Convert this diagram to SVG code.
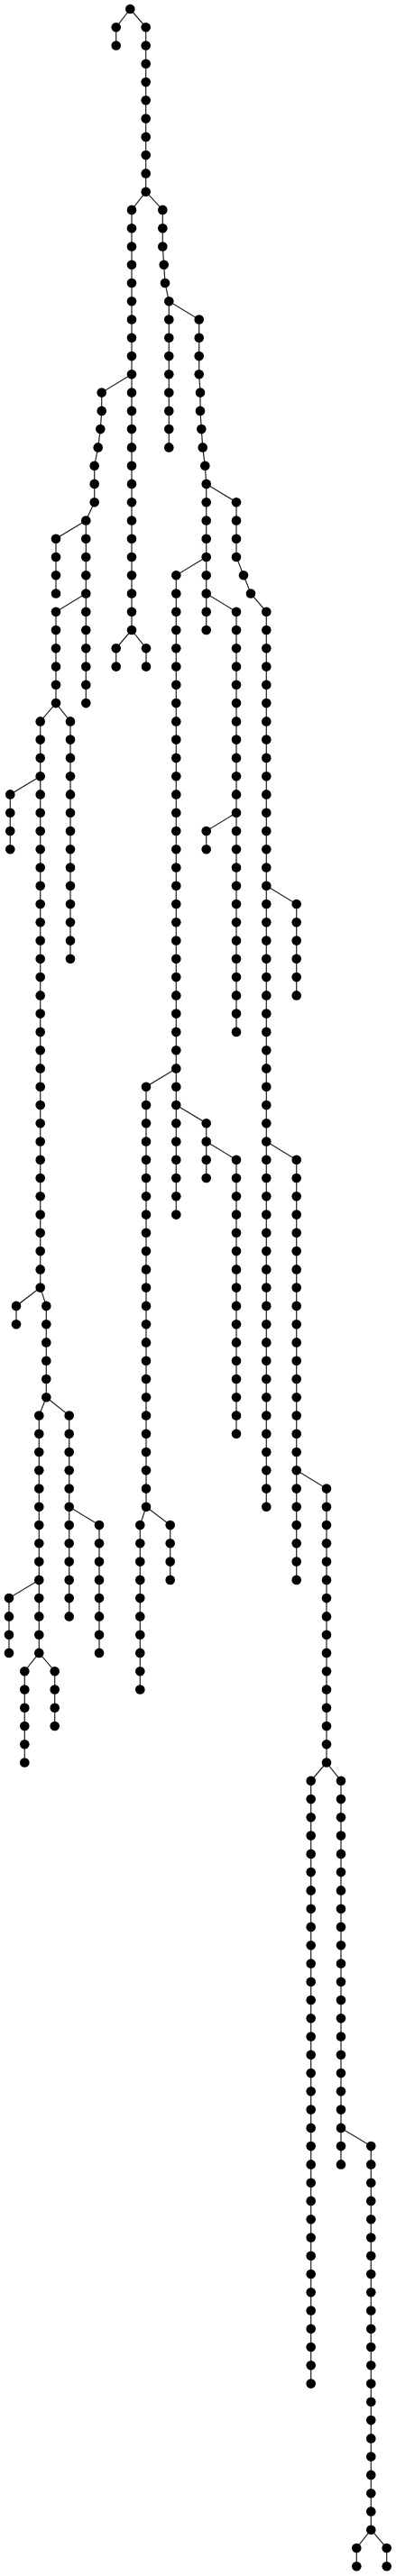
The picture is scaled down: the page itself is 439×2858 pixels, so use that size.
<svg xmlns="http://www.w3.org/2000/svg" width="439" height="2858" viewBox="0 0 439 2858">
<style>
.e path{fill:none;stroke:#222;stroke-width:1.2}
.n circle{fill:#000;r:5.3}
</style>
<rect width="439" height="2858" fill="#fff"/>
<g id="connectors" class="e">
<path d="M144.3 10L128.7 30.3V50.5"/>
<path d="M144.3 10L161.7 30.3V212.7"/>
<path d="M161.7 212.7L146 232.9V699"/>
<path d="M161.7 212.7L180.3 232.9V273.5L181.7 293.7L183 314L187.3 334.3V496.4"/>
<path d="M187.3 334.3L220.7 354.5V415.3L222 435.6V455.9L223.3 476.1L224.7 496.4L227.3 516.7L228.7 536.9V699"/>
<path d="M228.7 536.9L262 557.2V618L270 638.3L278 658.5L295.3 678.8V1671.8"/>
<path d="M228.7 618L195.3 638.3V1347.6"/>
<path d="M228.7 658.5L262 678.8V1144.9"/>
<path d="M262 901.7L228.7 922V942.2"/>
<path d="M295.3 982.8L328.7 1003V1104.4"/>
<path d="M195.3 1185.4L162 1205.7V1671.8"/>
<path d="M195.3 1226L228.7 1246.2V1307"/>
<path d="M228.7 1266.5L262 1286.8V1590.8"/>
<path d="M295.3 1266.5L328.7 1286.8V1752.9"/>
<path d="M328.7 1631.3L362 1651.6V1955.5"/>
<path d="M362 1955.5L344.7 1975.8V2644.6"/>
<path d="M362 1955.5L378 1975.8V2401.4"/>
<path d="M378 2360.9L411.3 2381.1V2806.7"/>
<path d="M411.3 2806.7L395.3 2827V2847.2"/>
<path d="M411.3 2806.7L428.7 2827V2847.2"/>
<path d="M162 1671.8L155.3 1692.1V1874.5"/>
<path d="M162 1671.8L188.7 1692.1V1752.9"/>
<path d="M146 699L128.7 719.3V739.6"/>
<path d="M146 699L162 719.3V739.6"/>
<path d="M146 415.3L112.7 435.6V455.9L111.3 476.1L108.7 496.4L104.7 516.7V557.2L95.3 577.5V780.1"/>
<path d="M95.3 577.5L62 597.7V658.5"/>
<path d="M95.3 658.5L62 678.8V780.1"/>
<path d="M62 780.1L44.7 800.4V1428.6"/>
<path d="M62 780.1L78 800.4V1063.8"/>
<path d="M44.7 861.2L11.3 881.4V942.2"/>
<path d="M44.7 1428.6L18 1448.9V1469.2"/>
<path d="M44.7 1428.6L51.3 1448.9V1550.2"/>
<path d="M51.3 1550.2L43.3 1570.5V1833.9"/>
<path d="M51.3 1550.2L76.7 1570.5V1793.4"/>
<path d="M76.7 1671.8L110 1692.1V1833.9"/>
<path d="M43.3 1752.9L10 1773.1V1833.9"/>
<path d="M43.3 1833.9L27.3 1854.2V1955.5"/>
<path d="M43.3 1833.9L60.7 1854.2V1915"/>
</g>
<g id="nodes" class="n">
<g id="A0"><circle cx="144.3" cy="10"/></g>
<g id="B1"><circle cx="128.7" cy="30.3"/></g>
<g id="B2"><circle cx="128.7" cy="50.5"/></g>
<g id="C1"><circle cx="161.7" cy="30.3"/></g>
<g id="C2"><circle cx="161.7" cy="50.5"/></g>
<g id="C3"><circle cx="161.7" cy="70.8"/></g>
<g id="C4"><circle cx="161.7" cy="91.1"/></g>
<g id="C5"><circle cx="161.7" cy="111.3"/></g>
<g id="C6"><circle cx="161.7" cy="131.6"/></g>
<g id="C7"><circle cx="161.7" cy="151.9"/></g>
<g id="C8"><circle cx="161.7" cy="172.1"/></g>
<g id="C9"><circle cx="161.7" cy="192.4"/></g>
<g id="C10"><circle cx="161.7" cy="212.7"/></g>
<g id="D11"><circle cx="146" cy="232.9"/></g>
<g id="D12"><circle cx="146" cy="253.2"/></g>
<g id="D13"><circle cx="146" cy="273.5"/></g>
<g id="D14"><circle cx="146" cy="293.7"/></g>
<g id="D15"><circle cx="146" cy="314"/></g>
<g id="D16"><circle cx="146" cy="334.3"/></g>
<g id="D17"><circle cx="146" cy="354.5"/></g>
<g id="D18"><circle cx="146" cy="374.8"/></g>
<g id="D19"><circle cx="146" cy="395.1"/></g>
<g id="D20"><circle cx="146" cy="415.3"/></g>
<g id="D21"><circle cx="146" cy="435.6"/></g>
<g id="D22"><circle cx="146" cy="455.9"/></g>
<g id="D23"><circle cx="146" cy="476.1"/></g>
<g id="D24"><circle cx="146" cy="496.4"/></g>
<g id="D25"><circle cx="146" cy="516.7"/></g>
<g id="D26"><circle cx="146" cy="536.9"/></g>
<g id="D27"><circle cx="146" cy="557.2"/></g>
<g id="D28"><circle cx="146" cy="577.5"/></g>
<g id="D29"><circle cx="146" cy="597.7"/></g>
<g id="D30"><circle cx="146" cy="618"/></g>
<g id="D31"><circle cx="146" cy="638.3"/></g>
<g id="D32"><circle cx="146" cy="658.5"/></g>
<g id="D33"><circle cx="146" cy="678.8"/></g>
<g id="D34"><circle cx="146" cy="699"/></g>
<g id="E11"><circle cx="180.3" cy="232.9"/></g>
<g id="E12"><circle cx="180.3" cy="253.2"/></g>
<g id="E13"><circle cx="180.3" cy="273.5"/></g>
<g id="E14"><circle cx="181.7" cy="293.7"/></g>
<g id="E15"><circle cx="183" cy="314"/></g>
<g id="E16"><circle cx="187.3" cy="334.3"/></g>
<g id="E17"><circle cx="187.3" cy="354.5"/></g>
<g id="E18"><circle cx="187.3" cy="374.8"/></g>
<g id="E19"><circle cx="187.3" cy="395.1"/></g>
<g id="E20"><circle cx="187.3" cy="415.3"/></g>
<g id="E21"><circle cx="187.3" cy="435.6"/></g>
<g id="E22"><circle cx="187.3" cy="455.9"/></g>
<g id="E23"><circle cx="187.3" cy="476.1"/></g>
<g id="E24"><circle cx="187.3" cy="496.4"/></g>
<g id="F17"><circle cx="220.7" cy="354.5"/></g>
<g id="F18"><circle cx="220.7" cy="374.8"/></g>
<g id="F19"><circle cx="220.7" cy="395.1"/></g>
<g id="F20"><circle cx="220.7" cy="415.3"/></g>
<g id="F21"><circle cx="222" cy="435.6"/></g>
<g id="F22"><circle cx="222" cy="455.9"/></g>
<g id="F23"><circle cx="223.3" cy="476.1"/></g>
<g id="F24"><circle cx="224.7" cy="496.4"/></g>
<g id="F25"><circle cx="227.3" cy="516.7"/></g>
<g id="F26"><circle cx="228.7" cy="536.9"/></g>
<g id="F27"><circle cx="228.7" cy="557.2"/></g>
<g id="F28"><circle cx="228.7" cy="577.5"/></g>
<g id="F29"><circle cx="228.7" cy="597.7"/></g>
<g id="F30"><circle cx="228.7" cy="618"/></g>
<g id="F31"><circle cx="228.7" cy="638.3"/></g>
<g id="F32"><circle cx="228.7" cy="658.5"/></g>
<g id="F33"><circle cx="228.7" cy="678.8"/></g>
<g id="F34"><circle cx="228.7" cy="699"/></g>
<g id="G27"><circle cx="262" cy="557.2"/></g>
<g id="G28"><circle cx="262" cy="577.5"/></g>
<g id="G29"><circle cx="262" cy="597.7"/></g>
<g id="G30"><circle cx="262" cy="618"/></g>
<g id="G31"><circle cx="270" cy="638.3"/></g>
<g id="G32"><circle cx="278" cy="658.5"/></g>
<g id="G33"><circle cx="295.3" cy="678.8"/></g>
<g id="G34"><circle cx="295.3" cy="699"/></g>
<g id="G35"><circle cx="295.3" cy="719.3"/></g>
<g id="G36"><circle cx="295.3" cy="739.6"/></g>
<g id="G37"><circle cx="295.3" cy="759.8"/></g>
<g id="G38"><circle cx="295.3" cy="780.1"/></g>
<g id="G39"><circle cx="295.3" cy="800.4"/></g>
<g id="G40"><circle cx="295.3" cy="820.6"/></g>
<g id="G41"><circle cx="295.3" cy="840.9"/></g>
<g id="G42"><circle cx="295.3" cy="861.2"/></g>
<g id="G43"><circle cx="295.3" cy="881.4"/></g>
<g id="G44"><circle cx="295.3" cy="901.7"/></g>
<g id="G45"><circle cx="295.3" cy="922"/></g>
<g id="G46"><circle cx="295.3" cy="942.2"/></g>
<g id="G47"><circle cx="295.3" cy="962.5"/></g>
<g id="G48"><circle cx="295.3" cy="982.8"/></g>
<g id="G49"><circle cx="295.3" cy="1003"/></g>
<g id="G50"><circle cx="295.3" cy="1023.3"/></g>
<g id="G51"><circle cx="295.3" cy="1043.6"/></g>
<g id="G52"><circle cx="295.3" cy="1063.8"/></g>
<g id="G53"><circle cx="295.3" cy="1084.1"/></g>
<g id="G54"><circle cx="295.3" cy="1104.4"/></g>
<g id="G55"><circle cx="295.3" cy="1124.6"/></g>
<g id="G56"><circle cx="295.3" cy="1144.9"/></g>
<g id="G57"><circle cx="295.3" cy="1165.2"/></g>
<g id="G58"><circle cx="295.3" cy="1185.4"/></g>
<g id="G59"><circle cx="295.3" cy="1205.7"/></g>
<g id="G60"><circle cx="295.3" cy="1226"/></g>
<g id="G61"><circle cx="295.3" cy="1246.2"/></g>
<g id="G62"><circle cx="295.3" cy="1266.5"/></g>
<g id="G63"><circle cx="295.3" cy="1286.8"/></g>
<g id="G64"><circle cx="295.3" cy="1307"/></g>
<g id="G65"><circle cx="295.3" cy="1327.3"/></g>
<g id="G66"><circle cx="295.3" cy="1347.6"/></g>
<g id="G67"><circle cx="295.3" cy="1367.8"/></g>
<g id="G68"><circle cx="295.3" cy="1388.1"/></g>
<g id="G69"><circle cx="295.3" cy="1408.4"/></g>
<g id="G70"><circle cx="295.3" cy="1428.6"/></g>
<g id="G71"><circle cx="295.3" cy="1448.9"/></g>
<g id="G72"><circle cx="295.3" cy="1469.2"/></g>
<g id="G73"><circle cx="295.3" cy="1489.4"/></g>
<g id="G74"><circle cx="295.3" cy="1509.7"/></g>
<g id="G75"><circle cx="295.3" cy="1530"/></g>
<g id="G76"><circle cx="295.3" cy="1550.2"/></g>
<g id="G77"><circle cx="295.3" cy="1570.5"/></g>
<g id="G78"><circle cx="295.3" cy="1590.8"/></g>
<g id="G79"><circle cx="295.3" cy="1611"/></g>
<g id="G80"><circle cx="295.3" cy="1631.3"/></g>
<g id="G81"><circle cx="295.3" cy="1651.6"/></g>
<g id="G82"><circle cx="295.3" cy="1671.8"/></g>
<g id="H31"><circle cx="195.3" cy="638.3"/></g>
<g id="H32"><circle cx="195.3" cy="658.5"/></g>
<g id="H33"><circle cx="195.3" cy="678.8"/></g>
<g id="H34"><circle cx="195.3" cy="699"/></g>
<g id="H35"><circle cx="195.3" cy="719.3"/></g>
<g id="H36"><circle cx="195.3" cy="739.6"/></g>
<g id="H37"><circle cx="195.3" cy="759.8"/></g>
<g id="H38"><circle cx="195.3" cy="780.1"/></g>
<g id="H39"><circle cx="195.3" cy="800.4"/></g>
<g id="H40"><circle cx="195.3" cy="820.6"/></g>
<g id="H41"><circle cx="195.3" cy="840.9"/></g>
<g id="H42"><circle cx="195.3" cy="861.2"/></g>
<g id="H43"><circle cx="195.3" cy="881.4"/></g>
<g id="H44"><circle cx="195.3" cy="901.7"/></g>
<g id="H45"><circle cx="195.3" cy="922"/></g>
<g id="H46"><circle cx="195.3" cy="942.2"/></g>
<g id="H47"><circle cx="195.3" cy="962.5"/></g>
<g id="H48"><circle cx="195.3" cy="982.8"/></g>
<g id="H49"><circle cx="195.3" cy="1003"/></g>
<g id="H50"><circle cx="195.3" cy="1023.3"/></g>
<g id="H51"><circle cx="195.3" cy="1043.6"/></g>
<g id="H52"><circle cx="195.3" cy="1063.8"/></g>
<g id="H53"><circle cx="195.3" cy="1084.1"/></g>
<g id="H54"><circle cx="195.3" cy="1104.4"/></g>
<g id="H55"><circle cx="195.3" cy="1124.6"/></g>
<g id="H56"><circle cx="195.3" cy="1144.9"/></g>
<g id="H57"><circle cx="195.3" cy="1165.2"/></g>
<g id="H58"><circle cx="195.3" cy="1185.4"/></g>
<g id="H59"><circle cx="195.3" cy="1205.7"/></g>
<g id="H60"><circle cx="195.3" cy="1226"/></g>
<g id="H61"><circle cx="195.3" cy="1246.2"/></g>
<g id="H62"><circle cx="195.3" cy="1266.5"/></g>
<g id="H63"><circle cx="195.3" cy="1286.8"/></g>
<g id="H64"><circle cx="195.3" cy="1307"/></g>
<g id="H65"><circle cx="195.3" cy="1327.3"/></g>
<g id="H66"><circle cx="195.3" cy="1347.6"/></g>
<g id="I33"><circle cx="262" cy="678.8"/></g>
<g id="I34"><circle cx="262" cy="699"/></g>
<g id="I35"><circle cx="262" cy="719.3"/></g>
<g id="I36"><circle cx="262" cy="739.6"/></g>
<g id="I37"><circle cx="262" cy="759.8"/></g>
<g id="I38"><circle cx="262" cy="780.1"/></g>
<g id="I39"><circle cx="262" cy="800.4"/></g>
<g id="I40"><circle cx="262" cy="820.6"/></g>
<g id="I41"><circle cx="262" cy="840.9"/></g>
<g id="I42"><circle cx="262" cy="861.2"/></g>
<g id="I43"><circle cx="262" cy="881.4"/></g>
<g id="I44"><circle cx="262" cy="901.7"/></g>
<g id="I45"><circle cx="262" cy="922"/></g>
<g id="I46"><circle cx="262" cy="942.2"/></g>
<g id="I47"><circle cx="262" cy="962.5"/></g>
<g id="I48"><circle cx="262" cy="982.8"/></g>
<g id="I49"><circle cx="262" cy="1003"/></g>
<g id="I50"><circle cx="262" cy="1023.3"/></g>
<g id="I51"><circle cx="262" cy="1043.6"/></g>
<g id="I52"><circle cx="262" cy="1063.8"/></g>
<g id="I53"><circle cx="262" cy="1084.1"/></g>
<g id="I54"><circle cx="262" cy="1104.4"/></g>
<g id="I55"><circle cx="262" cy="1124.6"/></g>
<g id="I56"><circle cx="262" cy="1144.9"/></g>
<g id="J45"><circle cx="228.7" cy="922"/></g>
<g id="J46"><circle cx="228.7" cy="942.2"/></g>
<g id="K49"><circle cx="328.7" cy="1003"/></g>
<g id="K50"><circle cx="328.7" cy="1023.3"/></g>
<g id="K51"><circle cx="328.7" cy="1043.6"/></g>
<g id="K52"><circle cx="328.7" cy="1063.8"/></g>
<g id="K53"><circle cx="328.7" cy="1084.1"/></g>
<g id="K54"><circle cx="328.7" cy="1104.4"/></g>
<g id="L59"><circle cx="162" cy="1205.7"/></g>
<g id="L60"><circle cx="162" cy="1226"/></g>
<g id="L61"><circle cx="162" cy="1246.2"/></g>
<g id="L62"><circle cx="162" cy="1266.5"/></g>
<g id="L63"><circle cx="162" cy="1286.8"/></g>
<g id="L64"><circle cx="162" cy="1307"/></g>
<g id="L65"><circle cx="162" cy="1327.3"/></g>
<g id="L66"><circle cx="162" cy="1347.6"/></g>
<g id="L67"><circle cx="162" cy="1367.8"/></g>
<g id="L68"><circle cx="162" cy="1388.1"/></g>
<g id="L69"><circle cx="162" cy="1408.4"/></g>
<g id="L70"><circle cx="162" cy="1428.6"/></g>
<g id="L71"><circle cx="162" cy="1448.9"/></g>
<g id="L72"><circle cx="162" cy="1469.2"/></g>
<g id="L73"><circle cx="162" cy="1489.4"/></g>
<g id="L74"><circle cx="162" cy="1509.7"/></g>
<g id="L75"><circle cx="162" cy="1530"/></g>
<g id="L76"><circle cx="162" cy="1550.2"/></g>
<g id="L77"><circle cx="162" cy="1570.5"/></g>
<g id="L78"><circle cx="162" cy="1590.8"/></g>
<g id="L79"><circle cx="162" cy="1611"/></g>
<g id="L80"><circle cx="162" cy="1631.3"/></g>
<g id="L81"><circle cx="162" cy="1651.6"/></g>
<g id="L82"><circle cx="162" cy="1671.8"/></g>
<g id="M61"><circle cx="228.7" cy="1246.2"/></g>
<g id="M62"><circle cx="228.7" cy="1266.5"/></g>
<g id="M63"><circle cx="228.7" cy="1286.8"/></g>
<g id="M64"><circle cx="228.7" cy="1307"/></g>
<g id="N63"><circle cx="262" cy="1286.8"/></g>
<g id="N64"><circle cx="262" cy="1307"/></g>
<g id="N65"><circle cx="262" cy="1327.3"/></g>
<g id="N66"><circle cx="262" cy="1347.6"/></g>
<g id="N67"><circle cx="262" cy="1367.8"/></g>
<g id="N68"><circle cx="262" cy="1388.1"/></g>
<g id="N69"><circle cx="262" cy="1408.4"/></g>
<g id="N70"><circle cx="262" cy="1428.6"/></g>
<g id="N71"><circle cx="262" cy="1448.9"/></g>
<g id="N72"><circle cx="262" cy="1469.2"/></g>
<g id="N73"><circle cx="262" cy="1489.4"/></g>
<g id="N74"><circle cx="262" cy="1509.7"/></g>
<g id="N75"><circle cx="262" cy="1530"/></g>
<g id="N76"><circle cx="262" cy="1550.2"/></g>
<g id="N77"><circle cx="262" cy="1570.5"/></g>
<g id="N78"><circle cx="262" cy="1590.8"/></g>
<g id="O63"><circle cx="328.7" cy="1286.8"/></g>
<g id="O64"><circle cx="328.7" cy="1307"/></g>
<g id="O65"><circle cx="328.7" cy="1327.3"/></g>
<g id="O66"><circle cx="328.7" cy="1347.6"/></g>
<g id="O67"><circle cx="328.7" cy="1367.8"/></g>
<g id="O68"><circle cx="328.7" cy="1388.1"/></g>
<g id="O69"><circle cx="328.7" cy="1408.4"/></g>
<g id="O70"><circle cx="328.7" cy="1428.6"/></g>
<g id="O71"><circle cx="328.7" cy="1448.9"/></g>
<g id="O72"><circle cx="328.7" cy="1469.2"/></g>
<g id="O73"><circle cx="328.7" cy="1489.4"/></g>
<g id="O74"><circle cx="328.7" cy="1509.7"/></g>
<g id="O75"><circle cx="328.7" cy="1530"/></g>
<g id="O76"><circle cx="328.7" cy="1550.2"/></g>
<g id="O77"><circle cx="328.7" cy="1570.5"/></g>
<g id="O78"><circle cx="328.7" cy="1590.8"/></g>
<g id="O79"><circle cx="328.7" cy="1611"/></g>
<g id="O80"><circle cx="328.7" cy="1631.3"/></g>
<g id="O81"><circle cx="328.7" cy="1651.6"/></g>
<g id="O82"><circle cx="328.7" cy="1671.8"/></g>
<g id="O83"><circle cx="328.7" cy="1692.1"/></g>
<g id="O84"><circle cx="328.7" cy="1712.3"/></g>
<g id="O85"><circle cx="328.7" cy="1732.6"/></g>
<g id="O86"><circle cx="328.7" cy="1752.9"/></g>
<g id="P81"><circle cx="362" cy="1651.6"/></g>
<g id="P82"><circle cx="362" cy="1671.8"/></g>
<g id="P83"><circle cx="362" cy="1692.1"/></g>
<g id="P84"><circle cx="362" cy="1712.3"/></g>
<g id="P85"><circle cx="362" cy="1732.6"/></g>
<g id="P86"><circle cx="362" cy="1752.9"/></g>
<g id="P87"><circle cx="362" cy="1773.1"/></g>
<g id="P88"><circle cx="362" cy="1793.4"/></g>
<g id="P89"><circle cx="362" cy="1813.7"/></g>
<g id="P90"><circle cx="362" cy="1833.9"/></g>
<g id="P91"><circle cx="362" cy="1854.2"/></g>
<g id="P92"><circle cx="362" cy="1874.5"/></g>
<g id="P93"><circle cx="362" cy="1894.7"/></g>
<g id="P94"><circle cx="362" cy="1915"/></g>
<g id="P95"><circle cx="362" cy="1935.3"/></g>
<g id="P96"><circle cx="362" cy="1955.5"/></g>
<g id="Q97"><circle cx="344.7" cy="1975.8"/></g>
<g id="Q98"><circle cx="344.7" cy="1996.1"/></g>
<g id="Q99"><circle cx="344.7" cy="2016.3"/></g>
<g id="Q100"><circle cx="344.7" cy="2036.6"/></g>
<g id="Q101"><circle cx="344.7" cy="2056.9"/></g>
<g id="Q102"><circle cx="344.7" cy="2077.1"/></g>
<g id="Q103"><circle cx="344.7" cy="2097.4"/></g>
<g id="Q104"><circle cx="344.7" cy="2117.7"/></g>
<g id="Q105"><circle cx="344.7" cy="2137.9"/></g>
<g id="Q106"><circle cx="344.7" cy="2158.2"/></g>
<g id="Q107"><circle cx="344.7" cy="2178.5"/></g>
<g id="Q108"><circle cx="344.7" cy="2198.7"/></g>
<g id="Q109"><circle cx="344.7" cy="2219"/></g>
<g id="Q110"><circle cx="344.7" cy="2239.3"/></g>
<g id="Q111"><circle cx="344.7" cy="2259.5"/></g>
<g id="Q112"><circle cx="344.7" cy="2279.8"/></g>
<g id="Q113"><circle cx="344.7" cy="2300.1"/></g>
<g id="Q114"><circle cx="344.7" cy="2320.3"/></g>
<g id="Q115"><circle cx="344.7" cy="2340.6"/></g>
<g id="Q116"><circle cx="344.7" cy="2360.9"/></g>
<g id="Q117"><circle cx="344.7" cy="2381.1"/></g>
<g id="Q118"><circle cx="344.7" cy="2401.4"/></g>
<g id="Q119"><circle cx="344.7" cy="2421.7"/></g>
<g id="Q120"><circle cx="344.7" cy="2441.9"/></g>
<g id="Q121"><circle cx="344.7" cy="2462.2"/></g>
<g id="Q122"><circle cx="344.7" cy="2482.5"/></g>
<g id="Q123"><circle cx="344.7" cy="2502.7"/></g>
<g id="Q124"><circle cx="344.7" cy="2523"/></g>
<g id="Q125"><circle cx="344.7" cy="2543.3"/></g>
<g id="Q126"><circle cx="344.7" cy="2563.5"/></g>
<g id="Q127"><circle cx="344.7" cy="2583.8"/></g>
<g id="Q128"><circle cx="344.7" cy="2604"/></g>
<g id="Q129"><circle cx="344.7" cy="2624.3"/></g>
<g id="Q130"><circle cx="344.7" cy="2644.6"/></g>
<g id="R97"><circle cx="378" cy="1975.8"/></g>
<g id="R98"><circle cx="378" cy="1996.1"/></g>
<g id="R99"><circle cx="378" cy="2016.3"/></g>
<g id="R100"><circle cx="378" cy="2036.6"/></g>
<g id="R101"><circle cx="378" cy="2056.9"/></g>
<g id="R102"><circle cx="378" cy="2077.1"/></g>
<g id="R103"><circle cx="378" cy="2097.4"/></g>
<g id="R104"><circle cx="378" cy="2117.7"/></g>
<g id="R105"><circle cx="378" cy="2137.9"/></g>
<g id="R106"><circle cx="378" cy="2158.2"/></g>
<g id="R107"><circle cx="378" cy="2178.5"/></g>
<g id="R108"><circle cx="378" cy="2198.7"/></g>
<g id="R109"><circle cx="378" cy="2219"/></g>
<g id="R110"><circle cx="378" cy="2239.3"/></g>
<g id="R111"><circle cx="378" cy="2259.5"/></g>
<g id="R112"><circle cx="378" cy="2279.8"/></g>
<g id="R113"><circle cx="378" cy="2300.1"/></g>
<g id="R114"><circle cx="378" cy="2320.3"/></g>
<g id="R115"><circle cx="378" cy="2340.6"/></g>
<g id="R116"><circle cx="378" cy="2360.9"/></g>
<g id="R117"><circle cx="378" cy="2381.1"/></g>
<g id="R118"><circle cx="378" cy="2401.4"/></g>
<g id="S117"><circle cx="411.3" cy="2381.1"/></g>
<g id="S118"><circle cx="411.3" cy="2401.4"/></g>
<g id="S119"><circle cx="411.3" cy="2421.7"/></g>
<g id="S120"><circle cx="411.3" cy="2441.9"/></g>
<g id="S121"><circle cx="411.3" cy="2462.2"/></g>
<g id="S122"><circle cx="411.3" cy="2482.5"/></g>
<g id="S123"><circle cx="411.3" cy="2502.7"/></g>
<g id="S124"><circle cx="411.3" cy="2523"/></g>
<g id="S125"><circle cx="411.3" cy="2543.3"/></g>
<g id="S126"><circle cx="411.3" cy="2563.5"/></g>
<g id="S127"><circle cx="411.3" cy="2583.8"/></g>
<g id="S128"><circle cx="411.3" cy="2604"/></g>
<g id="S129"><circle cx="411.3" cy="2624.3"/></g>
<g id="S130"><circle cx="411.3" cy="2644.6"/></g>
<g id="S131"><circle cx="411.3" cy="2664.8"/></g>
<g id="S132"><circle cx="411.3" cy="2685.1"/></g>
<g id="S133"><circle cx="411.3" cy="2705.4"/></g>
<g id="S134"><circle cx="411.3" cy="2725.6"/></g>
<g id="S135"><circle cx="411.3" cy="2745.9"/></g>
<g id="S136"><circle cx="411.3" cy="2766.2"/></g>
<g id="S137"><circle cx="411.3" cy="2786.4"/></g>
<g id="S138"><circle cx="411.3" cy="2806.7"/></g>
<g id="T139"><circle cx="395.3" cy="2827"/></g>
<g id="T140"><circle cx="395.3" cy="2847.2"/></g>
<g id="U139"><circle cx="428.7" cy="2827"/></g>
<g id="U140"><circle cx="428.7" cy="2847.2"/></g>
<g id="V83"><circle cx="155.3" cy="1692.1"/></g>
<g id="V84"><circle cx="155.3" cy="1712.3"/></g>
<g id="V85"><circle cx="155.3" cy="1732.6"/></g>
<g id="V86"><circle cx="155.3" cy="1752.9"/></g>
<g id="V87"><circle cx="155.3" cy="1773.1"/></g>
<g id="V88"><circle cx="155.3" cy="1793.4"/></g>
<g id="V89"><circle cx="155.3" cy="1813.7"/></g>
<g id="V90"><circle cx="155.3" cy="1833.9"/></g>
<g id="V91"><circle cx="155.3" cy="1854.2"/></g>
<g id="V92"><circle cx="155.3" cy="1874.5"/></g>
<g id="W83"><circle cx="188.7" cy="1692.1"/></g>
<g id="W84"><circle cx="188.7" cy="1712.3"/></g>
<g id="W85"><circle cx="188.7" cy="1732.6"/></g>
<g id="W86"><circle cx="188.7" cy="1752.9"/></g>
<g id="X35"><circle cx="128.7" cy="719.3"/></g>
<g id="X36"><circle cx="128.7" cy="739.6"/></g>
<g id="Y35"><circle cx="162" cy="719.3"/></g>
<g id="Y36"><circle cx="162" cy="739.6"/></g>
<g id="Z21"><circle cx="112.7" cy="435.6"/></g>
<g id="Z22"><circle cx="112.7" cy="455.9"/></g>
<g id="Z23"><circle cx="111.3" cy="476.1"/></g>
<g id="Z24"><circle cx="108.7" cy="496.4"/></g>
<g id="Z25"><circle cx="104.7" cy="516.7"/></g>
<g id="Z26"><circle cx="104.7" cy="536.9"/></g>
<g id="Z27"><circle cx="104.7" cy="557.2"/></g>
<g id="Z28"><circle cx="95.3" cy="577.5"/></g>
<g id="Z29"><circle cx="95.3" cy="597.7"/></g>
<g id="Z30"><circle cx="95.3" cy="618"/></g>
<g id="Z31"><circle cx="95.3" cy="638.3"/></g>
<g id="Z32"><circle cx="95.3" cy="658.5"/></g>
<g id="Z33"><circle cx="95.3" cy="678.8"/></g>
<g id="Z34"><circle cx="95.3" cy="699"/></g>
<g id="Z35"><circle cx="95.3" cy="719.3"/></g>
<g id="Z36"><circle cx="95.3" cy="739.6"/></g>
<g id="Z37"><circle cx="95.3" cy="759.8"/></g>
<g id="Z38"><circle cx="95.3" cy="780.1"/></g>
<g id="a29"><circle cx="62" cy="597.7"/></g>
<g id="a30"><circle cx="62" cy="618"/></g>
<g id="a31"><circle cx="62" cy="638.3"/></g>
<g id="a32"><circle cx="62" cy="658.5"/></g>
<g id="b33"><circle cx="62" cy="678.8"/></g>
<g id="b34"><circle cx="62" cy="699"/></g>
<g id="b35"><circle cx="62" cy="719.3"/></g>
<g id="b36"><circle cx="62" cy="739.6"/></g>
<g id="b37"><circle cx="62" cy="759.8"/></g>
<g id="b38"><circle cx="62" cy="780.1"/></g>
<g id="c39"><circle cx="44.7" cy="800.4"/></g>
<g id="c40"><circle cx="44.7" cy="820.6"/></g>
<g id="c41"><circle cx="44.7" cy="840.9"/></g>
<g id="c42"><circle cx="44.7" cy="861.2"/></g>
<g id="c43"><circle cx="44.7" cy="881.4"/></g>
<g id="c44"><circle cx="44.7" cy="901.7"/></g>
<g id="c45"><circle cx="44.7" cy="922"/></g>
<g id="c46"><circle cx="44.7" cy="942.2"/></g>
<g id="c47"><circle cx="44.7" cy="962.5"/></g>
<g id="c48"><circle cx="44.7" cy="982.8"/></g>
<g id="c49"><circle cx="44.7" cy="1003"/></g>
<g id="c50"><circle cx="44.7" cy="1023.3"/></g>
<g id="c51"><circle cx="44.7" cy="1043.6"/></g>
<g id="c52"><circle cx="44.7" cy="1063.8"/></g>
<g id="c53"><circle cx="44.7" cy="1084.1"/></g>
<g id="c54"><circle cx="44.7" cy="1104.4"/></g>
<g id="c55"><circle cx="44.7" cy="1124.6"/></g>
<g id="c56"><circle cx="44.7" cy="1144.9"/></g>
<g id="c57"><circle cx="44.7" cy="1165.2"/></g>
<g id="c58"><circle cx="44.7" cy="1185.4"/></g>
<g id="c59"><circle cx="44.7" cy="1205.7"/></g>
<g id="c60"><circle cx="44.7" cy="1226"/></g>
<g id="c61"><circle cx="44.7" cy="1246.2"/></g>
<g id="c62"><circle cx="44.7" cy="1266.5"/></g>
<g id="c63"><circle cx="44.7" cy="1286.8"/></g>
<g id="c64"><circle cx="44.7" cy="1307"/></g>
<g id="c65"><circle cx="44.7" cy="1327.3"/></g>
<g id="c66"><circle cx="44.7" cy="1347.6"/></g>
<g id="c67"><circle cx="44.7" cy="1367.8"/></g>
<g id="c68"><circle cx="44.7" cy="1388.1"/></g>
<g id="c69"><circle cx="44.7" cy="1408.4"/></g>
<g id="c70"><circle cx="44.7" cy="1428.6"/></g>
<g id="d39"><circle cx="78" cy="800.4"/></g>
<g id="d40"><circle cx="78" cy="820.6"/></g>
<g id="d41"><circle cx="78" cy="840.9"/></g>
<g id="d42"><circle cx="78" cy="861.2"/></g>
<g id="d43"><circle cx="78" cy="881.4"/></g>
<g id="d44"><circle cx="78" cy="901.7"/></g>
<g id="d45"><circle cx="78" cy="922"/></g>
<g id="d46"><circle cx="78" cy="942.2"/></g>
<g id="d47"><circle cx="78" cy="962.5"/></g>
<g id="d48"><circle cx="78" cy="982.8"/></g>
<g id="d49"><circle cx="78" cy="1003"/></g>
<g id="d50"><circle cx="78" cy="1023.3"/></g>
<g id="d51"><circle cx="78" cy="1043.6"/></g>
<g id="d52"><circle cx="78" cy="1063.8"/></g>
<g id="e43"><circle cx="11.3" cy="881.4"/></g>
<g id="e44"><circle cx="11.3" cy="901.7"/></g>
<g id="e45"><circle cx="11.3" cy="922"/></g>
<g id="e46"><circle cx="11.3" cy="942.2"/></g>
<g id="f71"><circle cx="18" cy="1448.9"/></g>
<g id="f72"><circle cx="18" cy="1469.2"/></g>
<g id="g71"><circle cx="51.3" cy="1448.9"/></g>
<g id="g72"><circle cx="51.3" cy="1469.2"/></g>
<g id="g73"><circle cx="51.3" cy="1489.4"/></g>
<g id="g74"><circle cx="51.3" cy="1509.7"/></g>
<g id="g75"><circle cx="51.3" cy="1530"/></g>
<g id="g76"><circle cx="51.3" cy="1550.2"/></g>
<g id="h77"><circle cx="43.3" cy="1570.5"/></g>
<g id="h78"><circle cx="43.3" cy="1590.8"/></g>
<g id="h79"><circle cx="43.3" cy="1611"/></g>
<g id="h80"><circle cx="43.3" cy="1631.3"/></g>
<g id="h81"><circle cx="43.3" cy="1651.6"/></g>
<g id="h82"><circle cx="43.3" cy="1671.8"/></g>
<g id="h83"><circle cx="43.3" cy="1692.1"/></g>
<g id="h84"><circle cx="43.3" cy="1712.3"/></g>
<g id="h85"><circle cx="43.3" cy="1732.6"/></g>
<g id="h86"><circle cx="43.3" cy="1752.9"/></g>
<g id="h87"><circle cx="43.3" cy="1773.1"/></g>
<g id="h88"><circle cx="43.3" cy="1793.4"/></g>
<g id="h89"><circle cx="43.3" cy="1813.7"/></g>
<g id="h90"><circle cx="43.3" cy="1833.9"/></g>
<g id="i77"><circle cx="76.7" cy="1570.5"/></g>
<g id="i78"><circle cx="76.7" cy="1590.8"/></g>
<g id="i79"><circle cx="76.7" cy="1611"/></g>
<g id="i80"><circle cx="76.7" cy="1631.3"/></g>
<g id="i81"><circle cx="76.7" cy="1651.6"/></g>
<g id="i82"><circle cx="76.7" cy="1671.8"/></g>
<g id="i83"><circle cx="76.7" cy="1692.1"/></g>
<g id="i84"><circle cx="76.7" cy="1712.3"/></g>
<g id="i85"><circle cx="76.7" cy="1732.6"/></g>
<g id="i86"><circle cx="76.7" cy="1752.9"/></g>
<g id="i87"><circle cx="76.7" cy="1773.1"/></g>
<g id="i88"><circle cx="76.7" cy="1793.4"/></g>
<g id="j83"><circle cx="110" cy="1692.1"/></g>
<g id="j84"><circle cx="110" cy="1712.3"/></g>
<g id="j85"><circle cx="110" cy="1732.6"/></g>
<g id="j86"><circle cx="110" cy="1752.9"/></g>
<g id="j87"><circle cx="110" cy="1773.1"/></g>
<g id="j88"><circle cx="110" cy="1793.4"/></g>
<g id="j89"><circle cx="110" cy="1813.7"/></g>
<g id="j90"><circle cx="110" cy="1833.9"/></g>
<g id="k87"><circle cx="10" cy="1773.1"/></g>
<g id="k88"><circle cx="10" cy="1793.4"/></g>
<g id="k89"><circle cx="10" cy="1813.7"/></g>
<g id="k90"><circle cx="10" cy="1833.9"/></g>
<g id="l91"><circle cx="27.3" cy="1854.2"/></g>
<g id="l92"><circle cx="27.3" cy="1874.5"/></g>
<g id="l93"><circle cx="27.3" cy="1894.7"/></g>
<g id="l94"><circle cx="27.3" cy="1915"/></g>
<g id="l95"><circle cx="27.3" cy="1935.3"/></g>
<g id="l96"><circle cx="27.3" cy="1955.5"/></g>
<g id="m91"><circle cx="60.7" cy="1854.2"/></g>
<g id="m92"><circle cx="60.7" cy="1874.5"/></g>
<g id="m93"><circle cx="60.7" cy="1894.7"/></g>
<g id="m94"><circle cx="60.7" cy="1915"/></g>
</g>
</svg>
